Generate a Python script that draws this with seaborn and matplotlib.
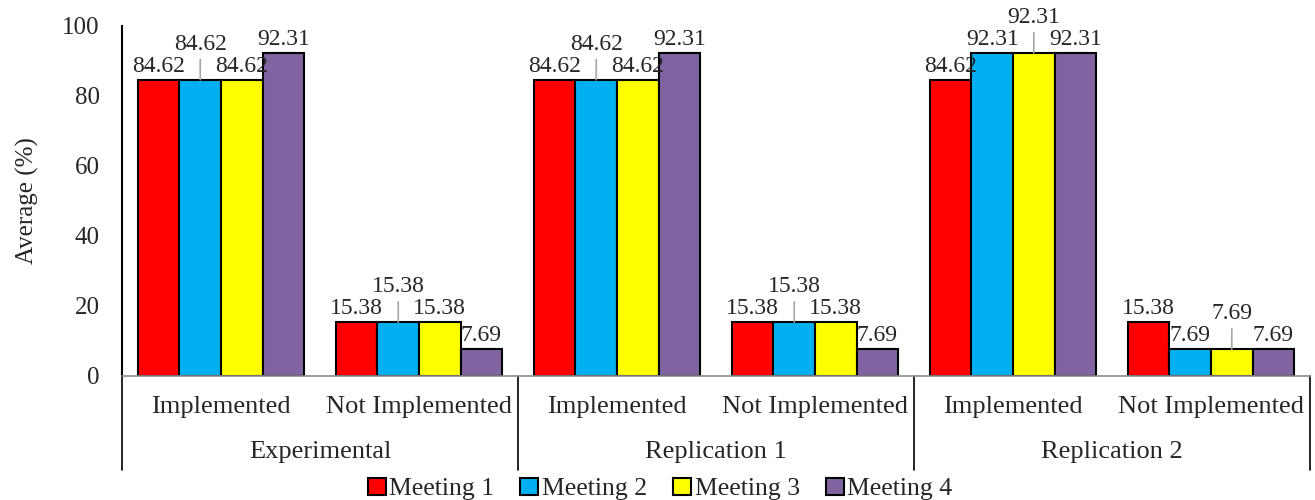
import pandas as pd
import matplotlib.pyplot as plt
import seaborn as sns

groups = ['Experimental', 'Replication 1', 'Replication 2']
statuses = ['Implemented', 'Not Implemented']
meetings = ['Meeting 1', 'Meeting 2', 'Meeting 3', 'Meeting 4']
colors = ['#FF0000', '#00B0F0', '#FFFF00', '#8064A2']

# values per meeting, order: Exp-Impl, Exp-Not, Rep1-Impl, Rep1-Not, Rep2-Impl, Rep2-Not
meeting1 = [84.62, 15.38, 84.62, 15.38, 84.62, 15.38]
meeting2 = [84.62, 15.38, 84.62, 15.38, 92.31, 7.69]
meeting3 = [84.62, 15.38, 84.62, 15.38, 92.31, 7.69]
meeting4 = [92.31, 7.69, 92.31, 7.69, 92.31, 7.69]

# labels that excel pushed up with a leader line: (category, meeting)
raised = [(0, 1), (1, 1), (2, 1), (3, 1), (4, 2), (5, 2)]

cats = [g + '|' + s for g in groups for s in statuses]
rows = []
for m, vals in zip(meetings, [meeting1, meeting2, meeting3, meeting4]):
    for c, v in zip(cats, vals):
        rows.append({'cat': c, 'meeting': m, 'value': v})
df = pd.DataFrame(rows)

sns.set_style('white')
plt.rcParams['font.family'] = ['Liberation Serif', 'DejaVu Serif']

fig = plt.figure(figsize=(13.15, 5), dpi=100)
ax = fig.add_axes([0.0928, 0.248, 0.9034, 0.70])

sns.barplot(data=df, x='cat', y='value', hue='meeting', palette=colors,
            width=0.84, edgecolor='black', linewidth=1.5, saturation=1,
            ax=ax, legend=True)

ax.set_ylim(0, 100)
ax.set_xlim(-0.5, 5.5)
ax.set_yticks([0, 20, 40, 60, 80, 100])
ax.tick_params(axis='y', length=0, pad=16, labelsize=18)
ax.set_xticks([])
ax.set_xlabel('')
ax.set_ylabel('Average (%)', fontsize=18, labelpad=17)
for s in ['top', 'right']:
    ax.spines[s].set_visible(False)
ax.spines['left'].set_color('black')
ax.spines['left'].set_linewidth(1.5)
ax.spines['bottom'].set_color('#8c8c8c')
ax.spines['bottom'].set_linewidth(1.2)

# data labels
for mi, cont in enumerate(ax.containers):
    for ci, bar in enumerate(cont):
        v = bar.get_height()
        x = bar.get_x() + bar.get_width() / 2
        if (ci, mi) in raised:
            ax.annotate(f'{v:.2f}', (x, v), xytext=(0, 18), textcoords='offset points',
                        ha='center', va='bottom', fontsize=17,
                        arrowprops=dict(arrowstyle='-', color='#a6a6a6', lw=1.2,
                                        shrinkA=1, shrinkB=0))
        else:
            ax.annotate(f'{v:.2f}', (x, v), xytext=(0, 2), textcoords='offset points',
                        ha='center', va='bottom', fontsize=17)

# two-level category axis
trans = ax.get_xaxis_transform()
for i, c in enumerate(cats):
    ax.text(i, -0.09, c.split('|')[1], transform=trans, ha='center', va='center', fontsize=19)
for gi, g in enumerate(groups):
    ax.text(gi * 2 + 0.5, -0.217, g, transform=trans, ha='center', va='center', fontsize=19)
for b in [-0.5, 1.5, 3.5, 5.5]:
    ax.plot([b, b], [0, -0.269], transform=trans, color='black', lw=1.2, clip_on=False)

ax.legend_.remove()
handles, labels = ax.get_legend_handles_labels()
fig.legend(handles, labels, loc='center', bbox_to_anchor=(0.502, 0.022), ncol=4,
           frameon=False, fontsize=18.5, handlelength=0.7, handleheight=0.7,
           handletextpad=0.15, columnspacing=1.0, borderpad=0)

fig.savefig('out.png', dpi=100)
